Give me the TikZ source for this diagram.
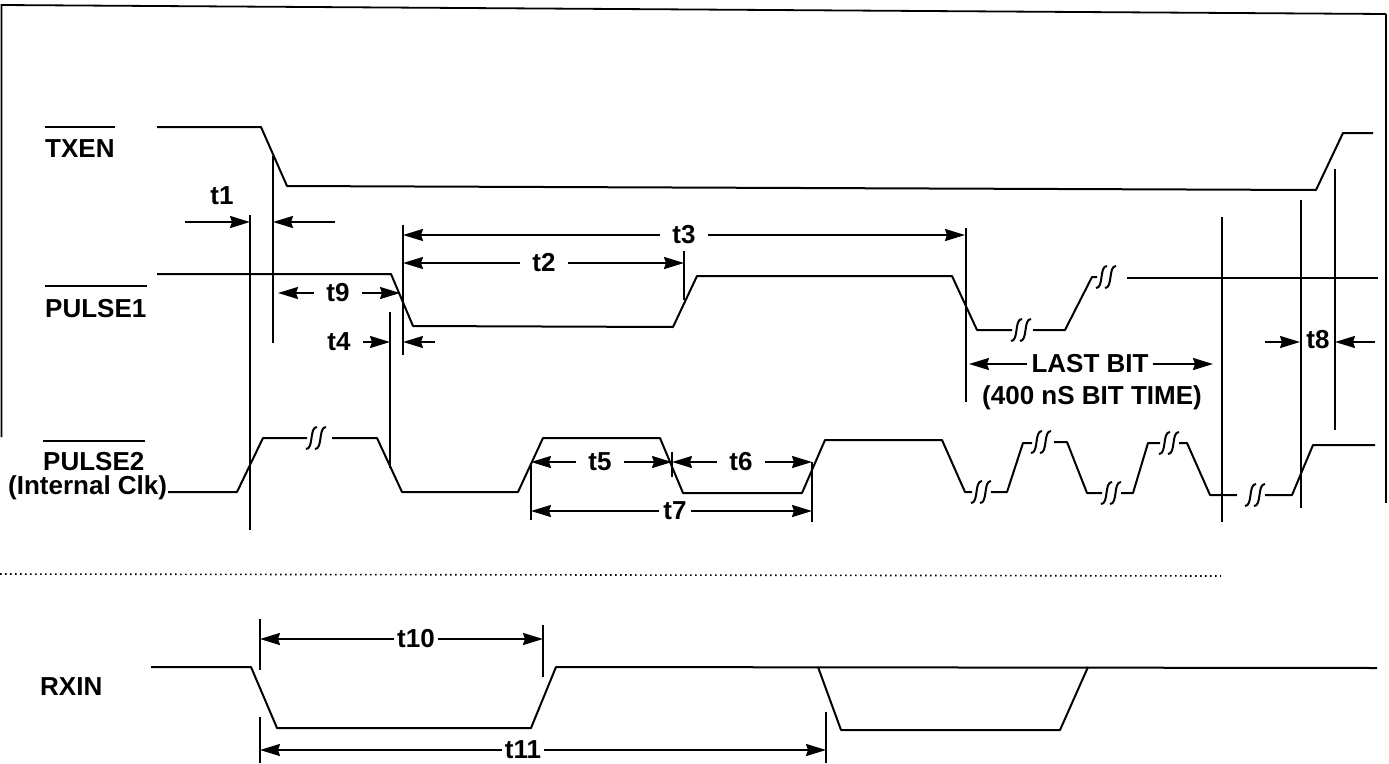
\documentclass[tikz,border=0pt]{standalone}
\usepackage{fontspec}
\setmainfont{Liberation Sans}
\usetikzlibrary{arrows.meta}
\begin{document}
\begin{tikzpicture}[x=1pt,y=-1pt,
  sig/.style={line width=2pt, line join=round},
  refline/.style={line width=1.3pt},
  frameline/.style={line width=1.8pt},
  ovl/.style={line width=2pt},
  dimarrow/.style={line width=2pt, -{Stealth[length=20pt,width=12pt,inset=2pt]}},
  lbl/.style={font=\fontsize{26}{28}\selectfont\bfseries, inner sep=0pt},
  tl/.style={font=\fontsize{26}{28}\selectfont\bfseries, inner xsep=12pt, inner ysep=0pt},
  tlt/.style={tl, inner xsep=3pt},
  brk/.pic={\draw[line width=2pt] (-1,11) .. controls (7,11) and (2,-11) .. (10,-11);
            \draw[line width=2pt] (8,11) .. controls (16,11) and (11,-11) .. (19,-11);}
]
\useasboundingbox (0,0) rectangle (1389,763);

% frame
\draw[frameline] (1.5,437) -- (1.5,5) -- (1386,14);
\draw[line width=1.2pt] (1386,14) -- (1386,503);

% labels
\node[lbl, anchor=base west] (txen) at (45,157) {TXEN};
\draw[ovl] ([yshift=12pt]txen.north west) -- ([yshift=12pt]txen.north east);
\node[lbl, anchor=base west] (p1) at (45,317) {PULSE1};
\draw[ovl] ([yshift=13pt]p1.north west) -- ([yshift=13pt]p1.north east);
\node[lbl, anchor=base west] (p2) at (43,470) {PULSE2};
\draw[ovl] ([yshift=11pt]p2.north west) -- ([yshift=11pt]p2.north east);
\node[lbl, anchor=base west] (clk) at (8,494) {(Internal Clk)};
\node[lbl, anchor=base west] (rxin) at (40,695) {RXIN};

% TXEN
\draw[sig] (157,127) -- (261,127) -- (287,186) -- (1316,190) -- (1343,133) -- (1373,133);

% PULSE1
\draw[sig] (157,274) -- (391,274) -- (413,326) -- (673,327) -- (697,276) -- (952,276) -- (977,330) -- (1012,330);
\pic at (1012,330) {brk};
\draw[sig] (1033,330) -- (1065,330) -- (1092,277) -- (1097,277);
\pic at (1097,277) {brk};
\draw[sig] (1127,278) -- (1378,278);

% PULSE2
\draw[sig] (168,492) -- (237,492) -- (263,438) -- (307,438);
\pic at (307,438) {brk};
\draw[sig] (332,438) -- (377,438) -- (402,492) -- (518,492) -- (543,438) -- (660,438) -- (683,493) -- (802,493) -- (825,440) -- (942,440) -- (965,492) -- (972,492);
\pic at (972,492) {brk};
\draw[sig] (991,492) -- (1007,492) -- (1023,443) -- (1032,443);
\pic at (1032,442) {brk};
\draw[sig] (1054,442) -- (1067,442) -- (1087,493) -- (1102,493);
\pic at (1102,493) {brk};
\draw[sig] (1121,493) -- (1133,493) -- (1148,443) -- (1160,443);
\pic at (1160,443) {brk};
\draw[sig] (1179,443) -- (1187,443) -- (1210,495) -- (1237,495);
\pic at (1246,495) {brk};
\draw[sig] (1265,495) -- (1292,495) -- (1313,445) -- (1375,445);

% RXIN
\draw[sig] (151,667) -- (251,667) -- (277,728) -- (531,728) -- (556,667) -- (1377,668);
\draw[sig] (818,667) -- (841,730) -- (1060,730) -- (1088,667);

% separator
\draw[line width=1.6pt, dash pattern=on 1.6pt off 3.4pt] (0,574) -- (1221,576);

% reference lines
\draw[refline] (250,215) -- (250,530);
\draw[refline] (273,156) -- (273,343);
\draw[refline] (403,225) -- (403,355);
\draw[refline] (390,312) -- (390,468);
\draw[refline] (684,251) -- (684,300);
\draw[refline] (966,228) -- (966,402);
\draw[refline] (1222,217) -- (1222,522);
\draw[refline] (1301,200) -- (1301,508);
\draw[refline] (1335,169) -- (1335,430);
\draw[refline] (531,465) -- (531,520);
\draw[refline] (672,452) -- (672,477);
\draw[refline] (812,462) -- (812,522);
\draw[refline] (260,619) -- (260,670);
\draw[refline] (260,717) -- (260,763);
\draw[refline] (543,625) -- (543,677);
\draw[refline] (826,712) -- (826,763);

% timing labels and arrows
\node[tl] (t1) at (222,196) {t1};
\coordinate (t1a) at (185,222); \coordinate (t1b) at (250,222);
\coordinate (t1c) at (335,222); \coordinate (t1d) at (273,222);
\draw[dimarrow] (t1a) -- (t1b);
\draw[dimarrow] (t1c) -- (t1d);

\node[tl] (t3) at (684,235) {t3};
\draw[dimarrow] (t3.west) -- (403,235);
\draw[dimarrow] (t3.east) -- (965,235);

\node[tl] (t2) at (544,263) {t2};
\draw[dimarrow] (t2.west) -- (403,263);
\draw[dimarrow] (t2.east) -- (684,263);

\node[tl] (t9) at (338,293) {t9};
\draw[dimarrow] (t9.west) -- (278,293);
\draw[dimarrow] (t9.east) -- (400,293);

\node[tl] (t4) at (339,342) {t4};
\draw[dimarrow] (t4.east) -- (390,342);
\coordinate (t4c) at (435,342);
\draw[dimarrow] (t4c) -- (403,342);

\node[tl] (t5) at (600,462) {t5};
\draw[dimarrow] (t5.west) -- (531,462);
\draw[dimarrow] (t5.east) -- (672,462);

\node[tl] (t6) at (741,462) {t6};
\draw[dimarrow] (t6.west) -- (672,462);
\draw[dimarrow] (t6.east) -- (812,462);

\node[tl, inner xsep=4pt] (t7) at (675,511) {t7};
\draw[dimarrow] (t7.west) -- (531,511);
\draw[dimarrow] (t7.east) -- (812,511);

\node[tl] (t8) at (1318,340) {t8};
\coordinate (t8a) at (1265,342); \coordinate (t8b) at (1300,342);
\coordinate (t8c) at (1375,342); \coordinate (t8d) at (1335,342);
\draw[dimarrow] (t8a) -- (t8b);
\draw[dimarrow] (t8c) -- (t8d);

\node[tl, inner xsep=4pt] (lb) at (1090,364) {LAST BIT};
\draw[dimarrow] (lb.west) -- (969,364);
\draw[dimarrow] (lb.east) -- (1213,364);
\node[lbl] (bt) at (1092,398) {(400 nS BIT TIME)};

\node[tlt] (t10) at (416,639) {t10};
\draw[dimarrow] (t10.west) -- (260,639);
\draw[dimarrow] (t10.east) -- (543,639);

\node[tlt] (t11) at (523,750) {t11};
\draw[dimarrow] (t11.west) -- (260,750);
\draw[dimarrow] (t11.east) -- (826,750);
\end{tikzpicture}
\end{document}
